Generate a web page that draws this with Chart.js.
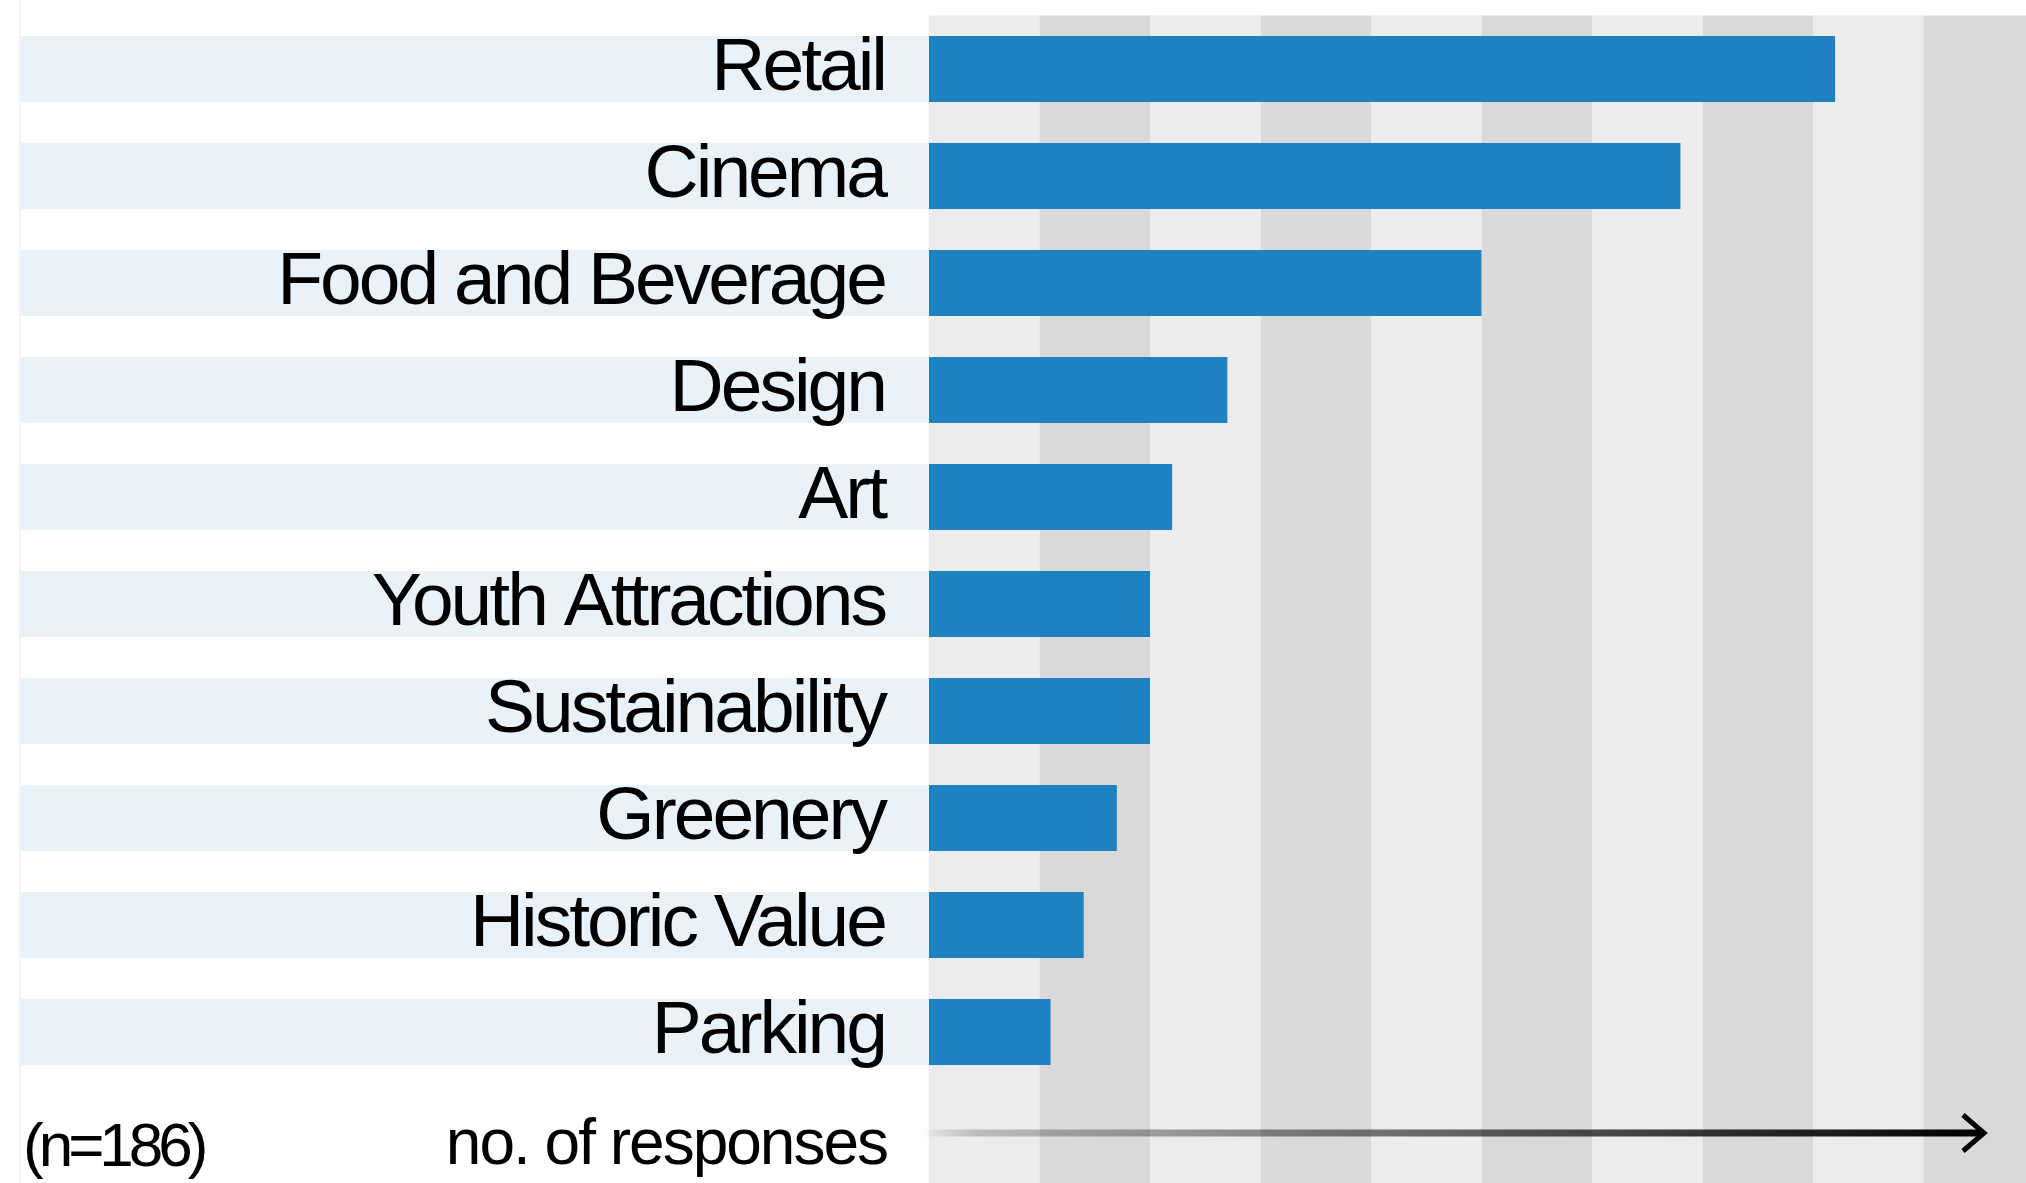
<!DOCTYPE html>
<html>
<head>
<meta charset="utf-8">
<title>Responses by category</title>
<script src="https://cdn.jsdelivr.net/npm/chart.js@4.4.1/dist/chart.umd.min.js"></script>
<style>
  html, body { margin: 0; padding: 0; background: #fff; overflow: hidden; }
  #wrap { width: 2034px; height: 1183px; position: relative; }
</style>
</head>
<body>
<div id="wrap"><canvas id="responsesChart"></canvas></div>
<script>
const categories = [
  'Retail',
  'Cinema',
  'Food and Beverage',
  'Design',
  'Art',
  'Youth Attractions',
  'Sustainability',
  'Greenery',
  'Historic Value',
  'Parking',
]
const responses = [82, 68, 50, 27, 22, 20, 20, 17, 14, 11]
const stripeSteps = [0, 10, 20, 30, 40, 50, 60, 70, 80, 90, 100]
const sampleNote = '(n=186)'
const axisCaption = 'no. of responses'

const FONT = '"Liberation Sans", Arial, sans-serif'

// white page, grey column stripes and the pale bands behind each label
const backdrop = {
  id: 'backdrop',
  beforeDraw(chart) {
    const { ctx, chartArea } = chart
    const x = chart.scales.x
    ctx.save()
    ctx.fillStyle = '#fff'
    ctx.fillRect(0, 0, chart.width, chart.height)

    ctx.fillStyle = '#f4f4f4'
    ctx.fillRect(19, 0, 2, chart.height)

    for (let i = 0; i < stripeSteps.length - 1; i++) {
      const x0 = x.getPixelForValue(stripeSteps[i])
      const x1 = x.getPixelForValue(stripeSteps[i + 1])
      ctx.fillStyle = i % 2 ? '#d9d9d9' : '#ececec'
      ctx.fillRect(x0, chartArea.top, x1 - x0, chart.height - chartArea.top)
    }

    ctx.fillStyle = '#e9f1f9'
    chart.getDatasetMeta(0).data.forEach((bar) => {
      const { y, height } = bar.getProps(['y', 'height'], true)
      ctx.fillRect(21, y - height / 2, chartArea.left - 21, height)
    })
    ctx.restore()
    // tighter tracking for the category labels
    ctx.letterSpacing = '-3px'
  },
  afterDraw(chart) {
    const { ctx, chartArea } = chart
    ctx.letterSpacing = '0px'
    ctx.save()

    // footer texts
    ctx.fillStyle = '#000'
    ctx.textBaseline = 'alphabetic'
    ctx.font = '62px ' + FONT
    ctx.letterSpacing = '-5px'
    ctx.textAlign = 'left'
    ctx.fillText(sampleNote, 23, 1166)
    ctx.font = '64px ' + FONT
    ctx.letterSpacing = '-2px'
    ctx.textAlign = 'right'
    ctx.fillText(axisCaption, chartArea.left - 42, 1164)
    ctx.letterSpacing = '0px'

    // fading arrow along the value direction
    const y = 1133
    const x0 = chartArea.left - 8
    const x1 = 1981
    const grad = ctx.createLinearGradient(x0, 0, x1, 0)
    grad.addColorStop(0, 'rgba(0,0,0,0)')
    grad.addColorStop(0.05, 'rgba(0,0,0,0.2)')
    grad.addColorStop(1, 'rgba(0,0,0,1)')
    ctx.strokeStyle = grad
    ctx.lineWidth = 7
    ctx.beginPath()
    ctx.moveTo(x0, y)
    ctx.lineTo(x1, y)
    ctx.stroke()

    ctx.strokeStyle = '#000'
    ctx.lineWidth = 5
    ctx.lineJoin = 'miter'
    ctx.beginPath()
    ctx.moveTo(1963, y - 18)
    ctx.lineTo(1984, y)
    ctx.lineTo(1963, y + 18)
    ctx.stroke()
    ctx.restore()
  },
}

const ctx = document.getElementById('responsesChart').getContext('2d')

new Chart(ctx, {
  type: 'bar',
  data: {
    labels: categories,
    datasets: [
      {
        data: responses,
        backgroundColor: '#1f82c0',
        borderWidth: 0,
        barPercentage: 0.617,
        categoryPercentage: 1,
      },
    ],
  },
  options: {
    indexAxis: 'y',
    animation: false,
    responsive: true,
    maintainAspectRatio: false,
    layout: {
      padding: { top: 15.5, bottom: 97.5, left: 0, right: 0 },
    },
    plugins: {
      legend: { display: false },
      tooltip: { enabled: false },
    },
    scales: {
      x: {
        display: false,
        min: 0,
        max: 100,
      },
      y: {
        grid: { display: false, drawTicks: false },
        border: { display: false },
        ticks: {
          color: '#000',
          padding: 44,
          font: { family: FONT, size: 75 },
        },
        afterFit(scale) {
          scale.width = 929
          scale.paddingTop = 0
          scale.paddingBottom = 0
        },
      },
    },
  },
  plugins: [backdrop],
})
</script>
</body>
</html>
